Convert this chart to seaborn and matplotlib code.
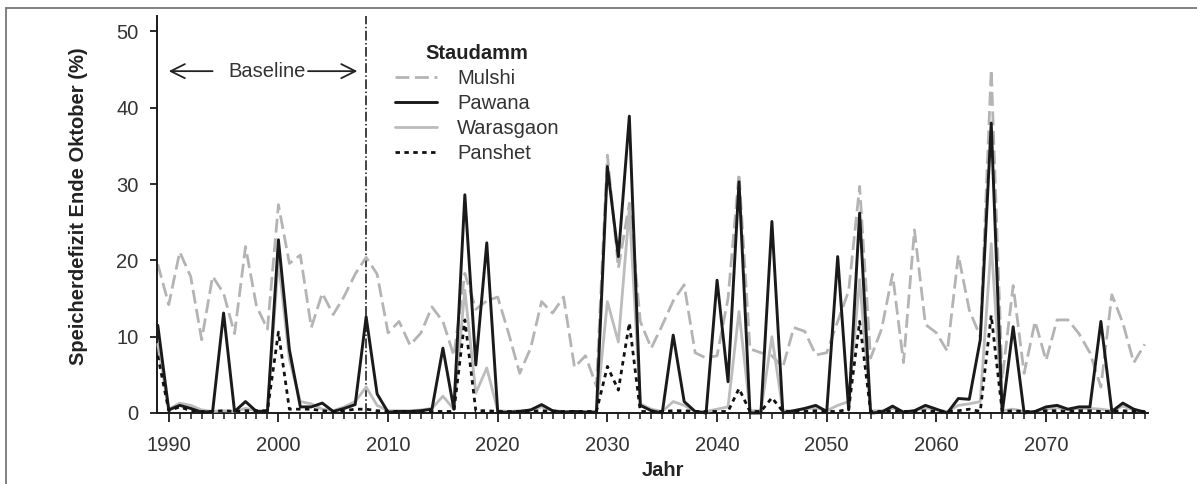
import numpy as np
import pandas as pd
import matplotlib
matplotlib.use("Agg")
import matplotlib.pyplot as plt
from matplotlib.lines import Line2D
import seaborn as sns

years = list(range(1989, 2080))

mulshi = [19.5, 14.2, 21.1, 17.9, 9.6, 17.9, 15.7, 10.4, 21.8, 14.0,
          11.0, 27.3, 19.6, 20.7, 11.2, 15.7, 12.9, 15.3, 18.2, 20.4,
          18.2, 10.5, 12.0, 8.9, 10.5, 13.9, 12.0, 7.5, 18.3, 13.6,
          14.7, 15.2, 10.4, 5.2, 8.5, 14.6, 13.1, 15.2, 6.0, 7.5,
          3.5, 33.8, 19.0, 27.5, 12.0, 8.5, 11.5, 14.7, 16.8, 7.9,
          7.2, 7.5, 15.0, 31.4, 8.4, 7.9, 7.5, 6.0, 11.2, 10.7,
          7.6, 7.9, 12.0, 16.0, 29.7, 7.2, 11.0, 18.2, 6.6, 24.0,
          11.6, 10.5, 8.1, 20.7, 13.5, 10.0, 45.0, 4.5, 16.7, 5.2,
          12.0, 6.9, 12.2, 12.2, 10.4, 7.9, 3.4, 15.5, 11.8, 6.6,
          9.0]

pawana = [11.5, 0.4, 1.0, 0.6, 0.1, 0.2, 13.1, 0.2, 1.5, 0.2,
          0.2, 22.7, 8.3, 0.8, 0.8, 1.3, 0.2, 0.6, 1.1, 12.6,
          2.5, 0.1, 0.2, 0.2, 0.3, 0.5, 8.5, 0.5, 28.6, 6.3,
          22.3, 0.1, 0.1, 0.2, 0.4, 1.1, 0.3, 0.1, 0.2, 0.1,
          0.1, 32.3, 20.5, 38.9, 1.0, 0.3, 0.0, 10.2, 1.5, 0.2,
          0.0, 17.4, 4.1, 30.3, 0.0, 0.0, 25.1, 0.0, 0.3, 0.6,
          1.0, 0.2, 20.5, 0.4, 26.2, 0.0, 0.1, 0.9, 0.1, 0.3,
          1.0, 0.5, 0.0, 1.9, 1.8, 9.6, 38.0, 0.0, 11.3, 0.0,
          0.2, 0.8, 1.0, 0.5, 0.8, 0.8, 12.0, 0.2, 1.3, 0.5,
          0.1]

warasgaon = [9.0, 0.5, 1.3, 1.0, 0.4, 0.2, 0.3, 0.2, 0.6, 0.3,
             0.3, 20.0, 7.0, 1.5, 1.2, 0.5, 0.3, 0.8, 1.5, 3.4,
             1.0, 0.3, 0.3, 0.3, 0.4, 0.6, 2.2, 0.5, 16.1, 2.6,
             5.9, 0.3, 0.2, 0.3, 0.4, 0.8, 0.3, 0.2, 0.2, 0.2,
             0.2, 14.6, 9.3, 26.8, 1.2, 0.5, 0.2, 1.5, 1.0, 0.2,
             0.2, 0.5, 0.8, 13.3, 0.3, 0.3, 10.0, 0.3, 0.3, 0.5,
             0.7, 0.3, 1.0, 1.5, 17.5, 0.3, 0.3, 0.6, 0.2, 0.3,
             0.7, 0.4, 0.2, 1.0, 1.2, 1.5, 22.2, 0.3, 0.5, 0.2,
             0.2, 0.5, 0.7, 0.4, 0.6, 0.6, 0.5, 0.3, 0.9, 0.4,
             0.2]

panshet = [7.5, 0.3, 0.8, 0.3, 0.2, 0.2, 0.3, 0.2, 0.3, 0.3,
           0.3, 10.6, 0.5, 0.5, 0.5, 0.3, 0.2, 0.3, 0.5, 0.5,
           0.3, 0.2, 0.2, 0.2, 0.2, 0.2, 0.2, 0.2, 12.2, 0.3,
           0.3, 0.2, 0.2, 0.2, 0.2, 0.3, 0.2, 0.2, 0.2, 0.2,
           0.2, 6.1, 3.0, 11.8, 0.2, 0.2, 0.2, 0.3, 0.3, 0.2,
           0.2, 0.2, 0.2, 3.2, 0.2, 0.2, 2.0, 0.2, 0.2, 0.2,
           0.3, 0.2, 0.2, 0.5, 12.0, 0.2, 0.2, 0.3, 0.2, 0.2,
           0.3, 0.2, 0.2, 0.3, 0.5, 0.2, 12.8, 0.2, 0.3, 0.2,
           0.2, 0.3, 0.3, 0.2, 0.3, 0.3, 0.2, 0.2, 0.3, 0.2,
           0.2]

series_names = ["Mulshi", "Pawana", "Warasgaon", "Panshet"]
legend_title = "Staudamm"
x_label = "Jahr"
y_label = "Speicherdefizit Ende Oktober (%)"
baseline_label = "Baseline"
baseline_start, baseline_end = 1990, 2008
x_ticks = [1990, 2000, 2010, 2020, 2030, 2040, 2050, 2060, 2070]
y_ticks = [0, 10, 20, 30, 40, 50]

sns.set_theme(style="ticks")
plt.rcParams["font.family"] = ["Liberation Sans", "DejaVu Sans"]
plt.rcParams["font.size"] = 14.5

fig = plt.figure(figsize=(11.97, 4.84), dpi=100)
ax = fig.add_axes([0.1309, 0.1467, 0.8282, 0.8198])

styles = {
    "Mulshi": dict(color="#b4b4b4", linestyle=(0, (5, 2)), linewidth=2.0, zorder=2),
    "Pawana": dict(color="#1a1a1a", linestyle="-", linewidth=2.1, zorder=4),
    "Warasgaon": dict(color="#bcbcbc", linestyle="-", linewidth=2.0, zorder=3),
    "Panshet": dict(color="#111111", linestyle=(0, (1.6, 1.6)), linewidth=2.0, zorder=5),
}
data = {"Mulshi": mulshi, "Pawana": pawana, "Warasgaon": warasgaon, "Panshet": panshet}

for name in series_names:
    st = styles[name]
    sns.lineplot(x=years, y=data[name], ax=ax, label=name,
                 color=st["color"], linewidth=st["linewidth"], zorder=st["zorder"])
    ax.lines[-1].set_linestyle(st["linestyle"])
    ax.lines[-1].set_clip_on(False)

ax.axvline(baseline_end, color="#111111", linestyle="-.", linewidth=1.1, zorder=1)

ax.set_xlim(1988.9, 2079.3)
ax.set_ylim(0, 52)
ax.set_xticks(x_ticks)
ax.set_xticks(years[1:], minor=True)
ax.set_yticks(y_ticks)
sns.despine(ax=ax)
for s in ["left", "bottom"]:
    ax.spines[s].set_color("#1a1a1a")
    ax.spines[s].set_linewidth(1.4)
ax.tick_params(axis="x", which="major", length=6.5, width=1.3, pad=10,
               labelsize=14.5, colors="#1a1a1a", labelcolor="#333333")
ax.tick_params(axis="x", which="minor", length=4, width=1.1, colors="#1a1a1a")
ax.tick_params(axis="y", which="major", length=5, width=1.3, pad=8,
               labelsize=14.5, colors="#1a1a1a", labelcolor="#333333")

ax.set_xlabel(x_label, fontsize=14.5, fontweight="bold", color="#222222")
ax.set_ylabel(y_label, fontsize=14.5, fontweight="bold", color="#222222")
ax.xaxis.set_label_coords(0.511, -0.122)
ax.yaxis.set_label_coords(-0.069, 0.52)

# Baseline annotation
ax.text(1999.0, 44.8, baseline_label, ha="center", va="center", fontsize=14.5, color="#333333")
arrow_kw = dict(arrowstyle="->,head_length=0.7,head_width=0.35", color="#222222", lw=1.3,
                shrinkA=0, shrinkB=0)
ax.annotate("", xy=(baseline_start, 44.8), xytext=(1994.0, 44.8), arrowprops=arrow_kw)
ax.annotate("", xy=(2007.2, 44.8), xytext=(2002.7, 44.8), arrowprops=arrow_kw)

leg = ax.legend(title=legend_title, loc="upper left", bbox_to_anchor=(0.240, 0.93),
                frameon=False, fontsize=14.5, title_fontproperties={"weight": "bold", "size": 14.5},
                handlelength=2.1, handletextpad=1.0, labelspacing=0.3, borderpad=0,
                borderaxespad=0)
for t in leg.get_texts():
    t.set_color("#333333")
leg.get_title().set_color("#222222")

# figure frame (top and left edges)
fig.add_artist(Line2D([6 / 1197, 1.0], [1 - 8 / 484, 1 - 8 / 484], transform=fig.transFigure,
                      color="#777777", linewidth=1.3))
fig.add_artist(Line2D([6 / 1197, 6 / 1197], [0.0, 1 - 8 / 484], transform=fig.transFigure,
                      color="#777777", linewidth=1.3))

fig.savefig("out.png", dpi=100)
